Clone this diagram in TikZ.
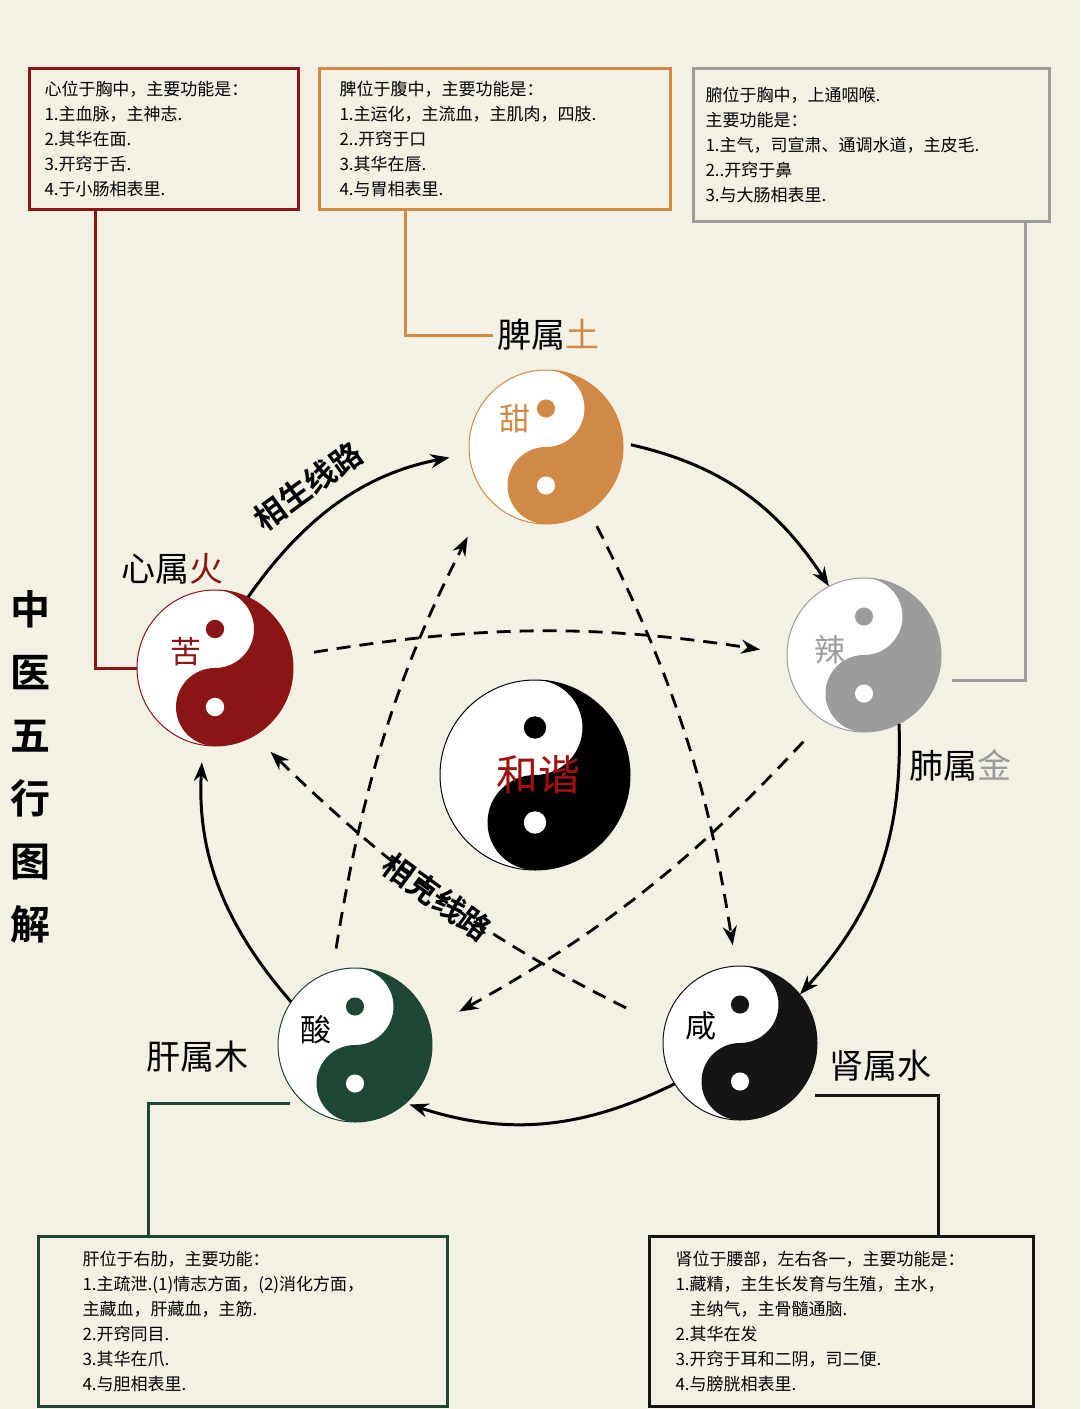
\documentclass[tikz,border=0pt]{standalone}
\usepackage{fontspec}
\setmainfont{Noto Sans CJK SC}[BoldFont={* Bold}]
\usetikzlibrary{arrows.meta,calc}
\definecolor{paper}{HTML}{F3F0E4}
\definecolor{huoc}{HTML}{8B1414}
\definecolor{tuc}{HTML}{D08A45}
\definecolor{jinc}{HTML}{9C9B9E}
\definecolor{muc}{HTML}{1E4634}
\definecolor{shuic}{HTML}{151515}
\newcommand{\yinyang}[4]{%
  \node[circle,minimum size=#4*2pt,inner sep=0pt] (#1) at (#2) {};
  \begin{scope}[shift={(#2)},yscale=-1]
    \fill[white] (0,0) circle (#4);
    \fill[#3] (0,#4) arc[start angle=90,end angle=-90,radius=#4]
      arc[start angle=-90,end angle=-270,radius=#4/2]
      arc[start angle=-90,end angle=90,radius=#4/2] -- cycle;
    \draw[#3,line width=1pt] (0,0) circle (#4);
    \fill[#3] (0,#4/2) circle (#4/8.5);
    \fill[white] (0,-#4/2) circle (#4/8.5);
  \end{scope}
}
\tikzset{
  sheng/.style={line width=3pt,-{Stealth[length=19pt,width=14pt]}},
  ke/.style={line width=2.8pt,dash pattern=on 14pt off 9pt,-{Stealth[length=19pt,width=14pt]}},
  infobox/.style={draw,line width=3pt,anchor=north west,align=left,inner xsep=#1,
    font=\fontsize{17}{25}\selectfont,fill=paper},
  linkline/.style={line width=3pt},
  element/.style={font=\fontsize{34}{34}\selectfont},
  yytext/.style={font=\fontsize{31}{31}\selectfont}
}
\begin{document}
\begin{tikzpicture}[x=1pt,y=-1pt]
  \fill[paper] (0,0) rectangle (1080,1409);
  \useasboundingbox (0,0) rectangle (1080,1409);

  % five circles
  \yinyang{tu}{546,447}{tuc}{77}
  \yinyang{jin}{864,655}{jinc}{77}
  \yinyang{huo}{215,668}{huoc}{78}
  \yinyang{mu}{355,1045}{muc}{77}
  \yinyang{shui}{740,1043}{shuic}{77}
  \yinyang{he}{535,775}{black}{95}

  \node[yytext,text=tuc] (tian) at (515,419) {甜};
  \node[yytext,text=jinc] (la) at (830,650) {辣};
  \node[yytext,text=huoc] (ku) at (186,652) {苦};
  \node[yytext] (suan) at (316,1030) {酸};
  \node[yytext] (xian) at (701,1026) {咸};
  \node[font=\fontsize{42}{42}\selectfont,text=huoc!80!red] (hexie) at (538,775) {和谐};

  % names
  \node[element] (tulabel) at (548,335) {脾属\textcolor{tuc}{土}};
  \node[element] (huolabel) at (172,569) {心属\textcolor{huoc}{火}};
  \node[element] (jinlabel) at (960,765) {肺属\textcolor{jinc}{金}};
  \node[element] (mulabel) at (197,1057) {肝属木};
  \node[element] (shuilabel) at (880,1066) {肾属水};

  \node[font=\fontsize{40}{63}\selectfont\bfseries,align=center] (title) at (30,767)
    {中\\医\\五\\行\\图\\解};

  % generating cycle
  \draw[sheng,shorten >=20pt] (huo.65) to[bend left=22] (tu.185);
  \draw[sheng,shorten <=8pt] (tu.3) to[bend left=22] (jin.117);
  \draw[sheng] (jin.-63) to[bend left=22] (shui.39);
  \draw[sheng,shorten >=4pt] (shui.-148) to[bend left=22] (mu.-49);
  \draw[sheng,shorten >=17pt] (mu.146) to[bend left=22] (huo.-99);
  \node[font=\fontsize{31}{31}\selectfont\bfseries,rotate=36,inner sep=0pt] (shengtext) at (308,486) {相生线路};

  % restraining cycle
  \draw[ke,shorten <=22pt,shorten >=27pt] (huo.9) to[bend left=9] (jin.179);
  \draw[ke,shorten <=17pt,shorten >=21pt] (tu.-56) to[bend left=9] (shui.93);
  \draw[ke,shorten <=29pt,shorten >=33pt] (jin.-122) to[bend left=9] (mu.13);
  \draw[ke,shorten <=43pt,shorten >=23pt] (shui.168) to[bend left=9] (huo.-60);
  \draw[ke,shorten <=23pt,shorten >=44pt] (mu.107) to[bend left=9] (tu.-139);
  \node[font=\fontsize{31}{31}\selectfont\bfseries,rotate=-36,inner sep=0pt] (ketext) at (437,897) {相克线路};

  % boxes
  \node[infobox=15pt,draw=huoc,minimum width=269pt,minimum height=141pt,text width=239pt] (huobox) at (28,67)
    {心位于胸中，主要功能是：\\1.主血脉，主神志.\\2.其华在面.\\3.开窍于舌.\\4.于小肠相表里.};
  \node[infobox=20pt,draw=tuc,minimum width=351pt,minimum height=141pt,text width=311pt] (tubox) at (318,67)
    {脾位于腹中，主要功能是：\\1.主运化，主流血，主肌肉，四肢.\\2..开窍于口\\3.其华在唇.\\4.与胃相表里.};
  \node[infobox=12pt,draw=jinc,minimum width=356pt,minimum height=153pt,text width=332pt] (jinbox) at (692,67)
    {腑位于胸中，上通咽喉.\\主要功能是：\\1.主气，司宣肃、通调水道，主皮毛.\\2..开窍于鼻\\3.与大肠相表里.};
  \node[infobox=44pt,draw=muc,minimum width=409pt,minimum height=170pt,text width=321pt] (mubox) at (37,1235)
    {肝位于右肋，主要功能：\\1.主疏泄.(1)情志方面，(2)消化方面，\\主藏血，肝藏血，主筋.\\2.开窍同目.\\3.其华在爪.\\4.与胆相表里.};
  \node[infobox=26pt,draw=shuic,minimum width=384pt,minimum height=170pt,text width=332pt] (shuibox) at (648,1235)
    {肾位于腰部，左右各一，主要功能是：\\1.藏精，主生长发育与生殖，主水，\\\hspace*{14pt}主纳气，主骨髓通脑.\\2.其华在发\\3.开窍于耳和二阴，司二便.\\4.与膀胱相表里.};

  % links
  \coordinate (jinend) at (952,680);
  \coordinate (muend) at (290,1103);
  \coordinate (shuiend) at (815,1095);
  \draw[linkline,huoc] (huobox.south -| 95,0) |- (huo.west);
  \draw[linkline,tuc] (tubox.south -| 405,0) |- (tulabel.west);
  \draw[linkline,jinc] (jinbox.south -| 1025,0) |- (jinend);
  \draw[linkline,muc] (muend) -| (mubox.north -| 148,0);
  \draw[linkline,shuic] (shuiend) -| (shuibox.north -| 938,0);
\end{tikzpicture}
\end{document}
